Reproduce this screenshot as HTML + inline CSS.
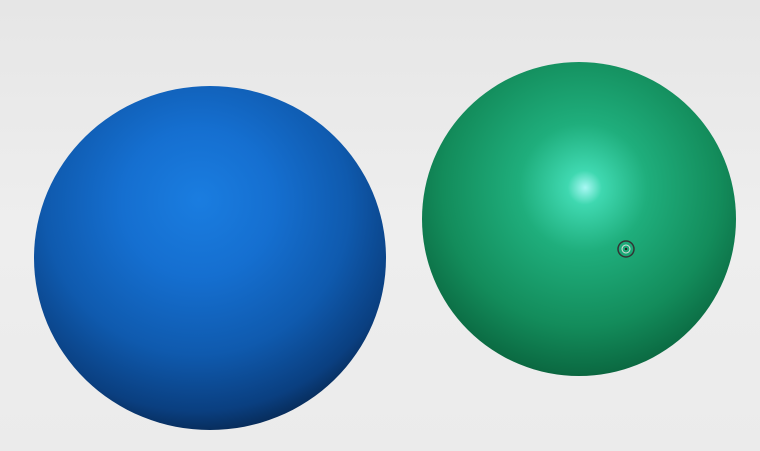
<!DOCTYPE html>
<html><head><meta charset="utf-8"><style>
html,body{margin:0;padding:0;width:760px;height:451px;overflow:hidden;background:#ececec}
svg{display:block}
</style></head><body>
<svg width="760" height="451" viewBox="0 0 760 451">
<defs>
<linearGradient id="bg" x1="0" y1="0" x2="0" y2="1">
<stop offset="0" stop-color="#e6e6e6"/><stop offset="0.5" stop-color="#eeeeee"/><stop offset="1" stop-color="#ebebeb"/>
</linearGradient>
<radialGradient id="blue" cx="0.46" cy="0.36" r="0.72" fx="0.47" fy="0.33">
<stop offset="0" stop-color="#1a7de0"/>
<stop offset="0.3" stop-color="#156fd0"/>
<stop offset="0.6" stop-color="#0f5aae"/>
<stop offset="0.82" stop-color="#0a3f80"/>
<stop offset="1" stop-color="#04162e"/>
</radialGradient>
<radialGradient id="green" cx="0.5" cy="0.4" r="0.68" fx="0.52" fy="0.4">
<stop offset="0" stop-color="#a8f8f4"/>
<stop offset="0.08" stop-color="#3fd8b0"/>
<stop offset="0.3" stop-color="#1fae7c"/>
<stop offset="0.65" stop-color="#138c5b"/>
<stop offset="0.87" stop-color="#0b6a42"/>
<stop offset="1" stop-color="#052e1c"/>
</radialGradient>
</defs>
<rect width="760" height="451" fill="url(#bg)"/>
<ellipse cx="210" cy="258" rx="176" ry="172" fill="url(#blue)"/>
<circle cx="579" cy="219" r="157" fill="url(#green)"/>
<g>
<circle cx="626" cy="249" r="8" fill="none" stroke="#333" stroke-width="1.5"/>
<circle cx="626" cy="249" r="4" fill="none" stroke="#ddd" stroke-width="1"/>
<circle cx="626" cy="249" r="1.2" fill="#222"/>
</g>
</svg>
</body></html>
